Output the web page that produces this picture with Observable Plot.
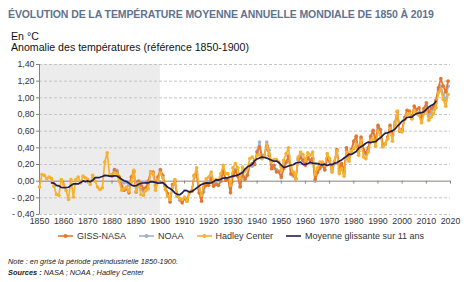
<!DOCTYPE html>
<html lang="fr">
<head>
<meta charset="utf-8">
<script src="https://cdn.jsdelivr.net/npm/d3@7"></script>
<script src="https://cdn.jsdelivr.net/npm/@observablehq/plot@0.6"></script>
<style>
  html, body { margin: 0; padding: 0; background: #fff; }
  body { width: 474px; height: 282px; position: relative; overflow: hidden;
         font-family: "Liberation Sans", Arial, Helvetica, sans-serif; color: #222; }
  .abs { position: absolute; white-space: nowrap; }
  #title { left: 8px; top: 8px; font-size: 10.5px; font-weight: bold; color: #5f7290; letter-spacing: -0.1px; }
  #unit { left: 11px; top: 31px; font-size: 10.6px; line-height: 11px; color: #111; }
  #chart { left: 0; top: 55px; }
  #legend { left: 0; top: 231px; width: 474px; display: flex; justify-content: center; gap: 13px; padding-left: 4px; font-size: 9px; color: #333; }
  .item { display: flex; align-items: center; gap: 4px; }
  #note { left: 8px; top: 257px; font-size: 7.4px; line-height: 10.5px; font-style: italic; color: #222; }
</style>
</head>
<body>
<div id="title" class="abs">ÉVOLUTION DE LA TEMPÉRATURE MOYENNE ANNUELLE MONDIALE DE 1850 À 2019</div>
<div id="unit" class="abs">En °C<br>Anomalie des températures (référence 1850-1900)</div>
<div id="chart" class="abs"></div>
<div id="legend" class="abs"></div>
<div id="note" class="abs">Note : en grisé la période préindustrielle 1850-1900.<br><b>Sources :</b> NASA ; NOAA ; Hadley Center</div>
<script>
// Annual global temperature anomalies (°C, relative to 1850-1900)
const hadleyStart = 1850;
const hadley = [
  -0.07, 0.08, 0.07, 0.03, 0.05, 0.03, -0.06, -0.16, -0.17, 0.02,
  -0.04, -0.11, -0.22, 0.02, -0.19, 0.02, 0.05, -0.02, 0.06, 0.04,
  0.02, -0.04, 0.07, 0.00, -0.07, -0.10, -0.08, 0.23, 0.34, 0.07,
  0.07, 0.10, 0.09, 0.00, -0.11, -0.09, -0.07, -0.12, -0.01, 0.13,
  -0.12, -0.03, -0.16, -0.17, -0.11, -0.09, 0.11, 0.09, -0.11, 0.01,
  0.10, 0.04, -0.10, -0.18, -0.22, -0.08, 0.02, -0.17, -0.21, -0.22,
  -0.19, -0.24, -0.14, -0.12, 0.06, 0.16, -0.08, -0.17, -0.03, 0.03,
  0.05, 0.11, 0.00, 0.02, 0.01, 0.09, 0.19, 0.09, 0.09, -0.05,
  0.16, 0.21, 0.16, 0.03, 0.17, 0.12, 0.15, 0.27, 0.29, 0.25,
  0.31, 0.32, 0.27, 0.30, 0.44, 0.33, 0.23, 0.26, 0.26, 0.23,
  0.13, 0.25, 0.33, 0.40, 0.17, 0.11, 0.03, 0.29, 0.35, 0.32,
  0.25, 0.34, 0.31, 0.35, 0.08, 0.16, 0.23, 0.23, 0.19, 0.33,
  0.27, 0.11, 0.24, 0.36, 0.09, 0.15, 0.06, 0.35, 0.24, 0.36,
  0.39, 0.44, 0.31, 0.49, 0.29, 0.27, 0.35, 0.49, 0.50, 0.42,
  0.60, 0.55, 0.41, 0.45, 0.51, 0.63, 0.48, 0.69, 0.84, 0.61,
  0.59, 0.74, 0.80, 0.81, 0.75, 0.85, 0.81, 0.79, 0.70, 0.81,
  0.86, 0.73, 0.77, 0.81, 0.88, 1.06, 1.10, 0.98, 0.90, 1.04
];
const gissStart = 1880;
const giss = [
  0.06, 0.14, 0.11, 0.05, -0.06, -0.11, -0.09, -0.14, 0.05, 0.12,
  -0.13, 0.00, -0.05, -0.09, -0.08, 0.00, 0.11, 0.11, -0.05, 0.05,
  0.14, 0.07, -0.06, -0.15, -0.25, -0.04, 0.00, -0.17, -0.21, -0.26,
  -0.21, -0.22, -0.14, -0.12, 0.07, 0.08, -0.14, -0.24, -0.07, -0.05,
  -0.05, 0.03, -0.06, -0.04, -0.05, 0.00, 0.12, 0.01, 0.02, -0.14,
  0.06, 0.12, 0.06, -0.07, 0.09, 0.02, 0.07, 0.19, 0.21, 0.20,
  0.35, 0.41, 0.29, 0.31, 0.42, 0.31, 0.15, 0.19, 0.11, 0.11,
  0.05, 0.15, 0.23, 0.30, 0.09, 0.08, 0.03, 0.27, 0.28, 0.25,
  0.19, 0.28, 0.25, 0.27, 0.02, 0.11, 0.16, 0.20, 0.14, 0.27,
  0.25, 0.14, 0.23, 0.38, 0.15, 0.21, 0.12, 0.40, 0.29, 0.38,
  0.48, 0.54, 0.36, 0.53, 0.38, 0.34, 0.40, 0.54, 0.61, 0.49,
  0.67, 0.62, 0.44, 0.45, 0.53, 0.67, 0.55, 0.68, 0.83, 0.60,
  0.61, 0.76, 0.85, 0.84, 0.75, 0.90, 0.86, 0.88, 0.76, 0.87,
  0.94, 0.83, 0.87, 0.90, 0.97, 1.12, 1.23, 1.14, 1.07, 1.20
];
const noaaStart = 1880;
const noaa = [
  0.08, 0.13, 0.13, 0.05, -0.02, -0.02, -0.01, -0.05, 0.05, 0.10,
  -0.13, -0.05, -0.10, -0.12, -0.09, -0.03, 0.11, 0.09, -0.07, 0.04,
  0.13, 0.05, -0.05, -0.17, -0.25, -0.08, -0.01, -0.18, -0.23, -0.24,
  -0.20, -0.24, -0.13, -0.12, 0.05, 0.11, -0.10, -0.19, -0.13, 0.00,
  -0.01, 0.05, -0.05, -0.02, -0.05, 0.02, 0.13, 0.03, 0.02, -0.13,
  0.09, 0.14, 0.07, -0.06, 0.09, 0.04, 0.08, 0.19, 0.18, 0.21,
  0.36, 0.47, 0.31, 0.30, 0.47, 0.37, 0.19, 0.15, 0.14, 0.12,
  0.04, 0.19, 0.22, 0.30, 0.08, 0.06, 0.03, 0.25, 0.31, 0.26,
  0.21, 0.28, 0.25, 0.27, 0.00, 0.10, 0.15, 0.18, 0.13, 0.27,
  0.23, 0.11, 0.21, 0.36, 0.12, 0.18, 0.09, 0.37, 0.26, 0.36,
  0.47, 0.53, 0.33, 0.51, 0.36, 0.32, 0.38, 0.53, 0.60, 0.47,
  0.65, 0.61, 0.42, 0.44, 0.51, 0.65, 0.55, 0.71, 0.83, 0.60,
  0.62, 0.74, 0.80, 0.81, 0.77, 0.86, 0.82, 0.82, 0.74, 0.84,
  0.90, 0.78, 0.82, 0.87, 0.94, 1.10, 1.14, 1.04, 0.97, 1.14
];

const seriesNames = ["GISS-NASA", "NOAA", "Hadley Center"];
const seriesColors = ["#e5772c", "#9fb2cf", "#f6b12e"];
const avgName = "Moyenne glissante sur 11 ans";
const avgColor = "#221d4e";
const preindustrial = [1850, 1900];
const xTicks = d3.range(1850, 2021, 10);
const yTicks = [-0.4, -0.2, 0, 0.2, 0.4, 0.6, 0.8, 1.0, 1.2, 1.4];

const toRows = (values, start, series) => values.map((value, i) => ({year: start + i, value, series}));
const rows = {
  "GISS-NASA": toRows(giss, gissStart, "GISS-NASA"),
  "NOAA": toRows(noaa, noaaStart, "NOAA"),
  "Hadley Center": toRows(hadley, hadleyStart, "Hadley Center")
};

// Yearly mean of the available series, smoothed over 11 years below
const allRows = [...rows["GISS-NASA"], ...rows["NOAA"], ...rows["Hadley Center"]];
const yearly = d3.rollups(allRows, v => d3.mean(v, d => d.value), d => d.year)
  .map(([year, mean]) => ({year, mean}))
  .sort((a, b) => a.year - b.year);

const colorOf = Object.fromEntries(seriesNames.map((s, i) => [s, seriesColors[i]]));
const drawOrder = ["NOAA", "GISS-NASA", "Hadley Center"];
const fmt = d => {
  const s = Math.abs(d).toFixed(2).replace(".", ",");
  return d < -1e-9 ? "- " + s : s;
};

const seriesMarks = drawOrder.flatMap(name => [
  Plot.line(rows[name], {x: "year", y: "value", stroke: colorOf[name], strokeWidth: 1.7}),
  Plot.dot(rows[name], {x: "year", y: "value", fill: colorOf[name], r: 1.8, stroke: "none"})
]);

const chart = Plot.plot({
  width: 474,
  height: 174,
  marginLeft: 39,
  marginRight: 24,
  marginTop: 9,
  marginBottom: 15,
  style: {fontFamily: "'Liberation Sans', Arial, Helvetica, sans-serif", fontSize: "8.8px", color: "#333", background: "transparent"},
  x: {domain: [1850, 2020], label: null},
  y: {domain: [-0.4, 1.4], label: null},
  marks: [
    Plot.rect([preindustrial], {x1: d => d[0], x2: d => d[1], y1: -0.4, y2: 1.4, fill: "#ececec"}),
    Plot.gridY(yTicks.filter(d => d !== 0), {stroke: "#c4c4c4", strokeOpacity: 1, strokeDasharray: "3,2"}),
    Plot.ruleY([0], {stroke: "#8b8178", strokeWidth: 1}),
    Plot.ruleX(xTicks.slice(1), {y1: 0, y2: -0.035, stroke: "#8b8178"}),
    Plot.ruleX([1850], {y1: -0.4, y2: 1.4, stroke: "#8b8178"}),
    Plot.axisY({ticks: yTicks, tickFormat: fmt, tickSize: 3, tickPadding: 2, stroke: "#8b8178", label: null}),
    Plot.axisX({ticks: xTicks, tickFormat: d => String(d), tickSize: 0, tickPadding: 3, label: null}),
    ...seriesMarks,
    Plot.line(yearly, Plot.windowY({k: 11, anchor: "middle", strict: true}, {x: "year", y: "mean", stroke: avgColor, strokeWidth: 1.7}))
  ]
});
document.getElementById("chart").appendChild(chart);

// Legend
const legend = document.getElementById("legend");
const entries = [...seriesNames.map(n => ({name: n, color: colorOf[n], dot: true})), {name: avgName, color: avgColor, dot: false}];
for (const e of entries) {
  const item = document.createElement("div");
  item.className = "item";
  const svgNS = "http://www.w3.org/2000/svg";
  const sw = document.createElementNS(svgNS, "svg");
  sw.setAttribute("width", 15); sw.setAttribute("height", 6);
  const ln = document.createElementNS(svgNS, "line");
  ln.setAttribute("x1", 0); ln.setAttribute("x2", 15); ln.setAttribute("y1", 3); ln.setAttribute("y2", 3);
  ln.setAttribute("stroke", e.color); ln.setAttribute("stroke-width", 1.6);
  sw.appendChild(ln);
  if (e.dot) {
    const c = document.createElementNS(svgNS, "circle");
    c.setAttribute("cx", 7.5); c.setAttribute("cy", 3); c.setAttribute("r", 2); c.setAttribute("fill", e.color);
    sw.appendChild(c);
  }
  item.appendChild(sw);
  const t = document.createElement("span");
  t.textContent = e.name;
  item.appendChild(t);
  legend.appendChild(item);
}
</script>
</body>
</html>
